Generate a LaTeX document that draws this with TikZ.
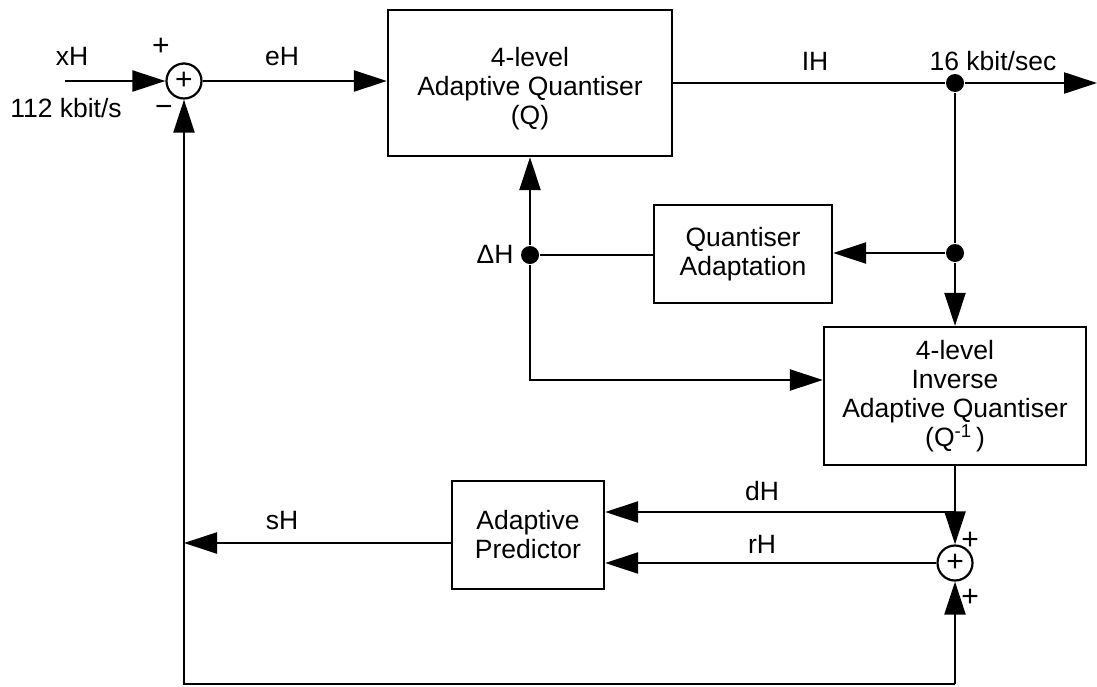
\documentclass[tikz,border=0pt]{standalone}
\usepackage{fontspec}
\setmainfont{Liberation Sans}
\usetikzlibrary{arrows.meta}
\begin{document}
\begin{tikzpicture}[x=1pt,y=-1pt,
  line width=2.3pt,
  every node/.style={font=\fontsize{26.5}{29}\selectfont},
  blk/.style={draw, line width=2.3pt, align=center, inner sep=0pt},
  sumnode/.style={draw, circle, line width=2.2pt, minimum size=35pt, inner sep=0pt,
                  font=\fontsize{30}{30}\selectfont},
  dot/.style={fill, circle, inner sep=0pt, minimum size=18pt},
  arr/.style={-{Triangle[length=33pt,width=21pt]}},
  lbl/.style={anchor=base, inner sep=0pt},
  sgn/.style={inner sep=0pt, font=\fontsize{30}{30}\selectfont},
]
\useasboundingbox (0,0) rectangle (1097,686);

% summing junctions
\node[sumnode] (s1) at (184,81) {+};
\node[sumnode] (s2) at (955,563) {+};

% blocks
\node[blk, minimum width=284pt, minimum height=146pt,
      label={[yshift=-6pt, align=center, inner sep=0pt]center:{4-level\\Adaptive Quantiser\\(Q)}}]
      (q) at (530,83) {};
\node[blk, minimum width=178pt, minimum height=98pt] (qa) at (743,254) {Quantiser\\Adaptation};
\node[blk, minimum width=262pt, minimum height=138pt] (iq) at (955,396)
      {4-level\\Inverse\\Adaptive Quantiser\\(Q\textsuperscript{-1}\,)};
\node[blk, minimum width=152pt, minimum height=108pt] (ap) at (528,535) {Adaptive\\Predictor};

% branch points
\node[dot] (j1) at (955,83) {};
\node[dot] (j2) at (955,253) {};
\node[dot] (j3) at (530,255) {};

% free ends and bends
\coordinate (xin) at (65,81);
\coordinate (out) at (1097,83);
\coordinate (bend) at (530,380);
\coordinate (dtap) at (955,512);
\coordinate (shend) at (184,543);
\coordinate (fbL) at (184,684);
\coordinate (fbR) at (955,684);

% forward path
\draw[arr] (xin) -- (s1.west);
\draw[arr] (s1.east) -- (s1.east -| q.west);
\draw (j1 -| q.east) -- (j1);
\draw[arr] (j1) -- (out);

% adaptation loop
\draw (j1) -- (j2);
\draw[arr] (j2) -- (j2 -| qa.east);
\draw[arr] (j2) -- (iq.north);
\draw (j3 -| qa.west) -- (j3);
\draw[arr] (j3) -- (q.south);
\draw[arr] (j3) -- (bend) -- (bend -| iq.west);

% reconstruction and prediction
\draw (iq.south) -- (dtap);
\draw[arr] (dtap) -- (s2.north);
\draw[arr] (dtap) -- (dtap -| ap.east);
\draw[arr] (s2.west) -- (s2.west -| ap.east);
\draw[arr] (shend -| ap.west) -- (shend);
\draw[arr] (fbR) -- (fbL) -- (s1.south);
\draw[arr] (fbR) -- (s2.south);

% signal labels
\node[lbl] at (72,65) {xH};
\node[lbl] at (66,117) {112 kbit/s};
\node[lbl] at (282,65) {eH};
\node[lbl] at (815,70) {IH};
\node[lbl] at (993,70) {16 kbit/sec};
\node[lbl] at (495,263) {ΔH};
\node[lbl] at (282,529) {sH};
\node[lbl] at (762,500) {dH};
\node[lbl] at (762,553) {rH};

% signs at the summing junctions
\node[sgn] at (161,47) {+};
\node[sgn] at (164,111) {−};
\node[sgn] at (970,541) {+};
\node[sgn] at (970,598) {+};
\end{tikzpicture}
\end{document}
